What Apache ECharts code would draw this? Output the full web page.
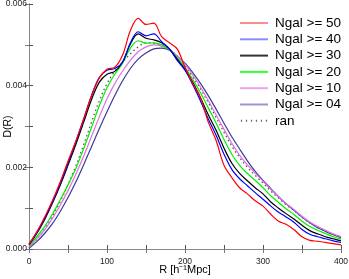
<!DOCTYPE html>
<html><head><meta charset="utf-8">
<script src="https://cdn.jsdelivr.net/npm/echarts@6/dist/echarts.min.js"></script>
<style>html,body{margin:0;padding:0;background:#fff}#c{width:349px;height:279px}</style>
</head><body><div id="c"></div>
<script>
const R = [0,10,20,30,40,50,60,70,80,90,100,110,120,130,140,150,160,170,180,190,200,210,220,230,240,250,260,270,280,290,300,310,320,330,340,350,360,370,380,390,400];
const seriesNames = ['Ngal >= 50','Ngal >= 40','Ngal >= 30','Ngal >= 20','Ngal >= 10','Ngal >= 04','ran'];
const ngal50 = [0.00012,0.00042,0.00078,0.00118,0.00164,0.00215,0.00264,0.00318,0.00374,0.00418,0.00440,0.00445,0.00475,0.00535,0.00565,0.00550,0.00553,0.00520,0.00505,0.00490,0.00445,0.00405,0.00370,0.00310,0.00265,0.00205,0.00175,0.00150,0.00135,0.00118,0.00105,0.00085,0.00068,0.00060,0.00047,0.00030,0.00021,0.00019,0.00016,0.00013,0.00010];
const ngal40 = [0.00012,0.00040,0.00075,0.00115,0.00160,0.00210,0.00262,0.00318,0.00375,0.00420,0.00438,0.00442,0.00458,0.00505,0.00532,0.00522,0.00527,0.00508,0.00490,0.00462,0.00438,0.00402,0.00362,0.00318,0.00278,0.00232,0.00195,0.00172,0.00155,0.00138,0.00122,0.00105,0.00090,0.00078,0.00065,0.00048,0.00036,0.00030,0.00025,0.00020,0.00016];
const ngal30 = [0.00010,0.00038,0.00072,0.00112,0.00156,0.00205,0.00256,0.00310,0.00365,0.00408,0.00428,0.00435,0.00458,0.00502,0.00527,0.00516,0.00512,0.00505,0.00490,0.00465,0.00440,0.00408,0.00370,0.00328,0.00290,0.00247,0.00210,0.00185,0.00167,0.00150,0.00135,0.00115,0.00100,0.00086,0.00073,0.00058,0.00045,0.00037,0.00030,0.00025,0.00020];
const ngal20 = [0.00008,0.00030,0.00055,0.00085,0.00120,0.00157,0.00197,0.00245,0.00297,0.00350,0.00395,0.00428,0.00455,0.00492,0.00510,0.00504,0.00505,0.00500,0.00488,0.00468,0.00445,0.00415,0.00382,0.00345,0.00308,0.00268,0.00232,0.00205,0.00185,0.00168,0.00150,0.00130,0.00114,0.00098,0.00084,0.00068,0.00055,0.00046,0.00038,0.00030,0.00024];
const ngal10 = [0.00005,0.00024,0.00047,0.00075,0.00107,0.00143,0.00183,0.00227,0.00275,0.00323,0.00368,0.00405,0.00436,0.00462,0.00483,0.00495,0.00500,0.00497,0.00488,0.00472,0.00452,0.00426,0.00396,0.00363,0.00328,0.00293,0.00259,0.00230,0.00206,0.00186,0.00166,0.00146,0.00128,0.00111,0.00096,0.00080,0.00066,0.00055,0.00046,0.00037,0.00030];
const ngal04 = [0.00002,0.00018,0.00038,0.00062,0.00092,0.00126,0.00164,0.00206,0.00250,0.00294,0.00336,0.00376,0.00412,0.00442,0.00465,0.00480,0.00490,0.00492,0.00487,0.00472,0.00455,0.00432,0.00405,0.00375,0.00342,0.00308,0.00275,0.00245,0.00216,0.00190,0.00168,0.00148,0.00128,0.00110,0.00094,0.00078,0.00064,0.00052,0.00043,0.00035,0.00028];
const ran = [0.00004,0.00024,0.00049,0.00080,0.00116,0.00157,0.00203,0.00255,0.00310,0.00362,0.00405,0.00435,0.00457,0.00478,0.00495,0.00505,0.00504,0.00500,0.00490,0.00472,0.00450,0.00422,0.00392,0.00358,0.00322,0.00286,0.00252,0.00224,0.00200,0.00180,0.00162,0.00142,0.00125,0.00108,0.00094,0.00078,0.00064,0.00054,0.00045,0.00036,0.00030];
const xTickLabels = ['0','100','200','300','400'];
const yTickLabels = ['0.000','0.002','0.004','0.006'];

const allData = [ngal50, ngal40, ngal30, ngal20, ngal10, ngal04, ran];
const colors = ['#ff0000','#0000ff','#000000','#00ee00','#e070e0','#3a3a9a','#555555'];
const legendColors = ['#ff8c8c','#8c8cff','#333333','#30ff30','#f0a0f0','#9898d0','#666666'];
const solidIcon = 'path://M0 0H28V2H0Z';
const dotIcon = 'path://M1 0H2.2V2H1Z M6 0H7.2V2H6Z M11 0H12.2V2H11Z M16 0H17.2V2H16Z M21 0H22.2V2H21Z M26 0H27.2V2H26Z';
const chart = echarts.init(document.getElementById('c'));
const font = 'Liberation Sans, Arial, sans-serif';
const series = allData.map((d, i) => ({
  name: seriesNames[i], type: 'line', smooth: 0.35, symbol: 'none',
  data: d.map((v, j) => [R[j], v]),
  lineStyle: { color: colors[i], width: i === 6 ? 1.3 : 1.2, type: i === 6 ? [1.5, 3] : 'solid' },
  itemStyle: { color: colors[i] },
  z: 10 - i
}));
chart.setOption({
  animation: false,
  backgroundColor: '#fff',
  grid: { left: 29, right: 8, top: 4, bottom: 30, outerBoundsMode: 'none', containLabel: false },
  legend: {
    orient: 'vertical', left: 235, top: 11, itemWidth: 28, itemHeight: 2, itemGap: 2.3,
    textStyle: { fontFamily: font, fontSize: 13.5, lineHeight: 14, color: '#000', padding: [0,0,0,2] },
    data: seriesNames.map((n, i) => ({ name: n, icon: i === 6 ? dotIcon : solidIcon, itemStyle: { color: legendColors[i] } }))
  },
  xAxis: [{
    type: 'value', min: 0, max: 400, interval: 50,
    axisLine: { lineStyle: { color: '#000', width: 1 } },
    axisTick: { inside: true, length: 4, lineStyle: { color: '#555' } },
    axisLabel: { fontFamily: font, fontSize: 8.5, color: '#222', margin: 8,
      formatter: v => (v % 100 === 0 ? xTickLabels[v / 100] : '') },
    splitLine: { show: false },
    name: 'R [h⁻¹Mpc]', nameLocation: 'middle', nameGap: 21, nameMoveOverlap: false,
    nameTextStyle: { fontFamily: font, fontSize: 11, color: '#000', verticalAlign: 'middle' }
  }, {
    type: 'value', min: 0, max: 400, interval: 50, position: 'top',
    axisLine: { lineStyle: { color: '#888' } },
    axisTick: { inside: true, length: 4, lineStyle: { color: '#777' } },
    axisLabel: { show: false }, splitLine: { show: false }
  }],
  yAxis: [{
    type: 'value', min: 0, max: 0.006, interval: 0.001,
    axisLine: { show: true, lineStyle: { color: '#444' } },
    axisTick: { show: true, inside: true, length: 4, lineStyle: { color: '#555' } },
    axisLabel: { fontFamily: font, fontSize: 8.5, color: '#222', margin: 2,
      formatter: v => { const k = Math.round(v / 0.001); return k % 2 === 0 ? yTickLabels[k / 2] : ''; } },
    splitLine: { show: false },
    name: 'D(R)', nameLocation: 'middle', nameGap: 21, nameRotate: 90, nameMoveOverlap: false,
    nameTextStyle: { fontFamily: font, fontSize: 10.5, color: '#000', verticalAlign: 'middle' }
  }, {
    type: 'value', min: 0, max: 0.006, interval: 0.001, position: 'right',
    axisLine: { show: true, lineStyle: { color: '#888' } },
    axisTick: { show: true, inside: true, length: 4, lineStyle: { color: '#777' } },
    axisLabel: { show: false }, splitLine: { show: false }
  }],
  series: series
});
</script></body></html>
